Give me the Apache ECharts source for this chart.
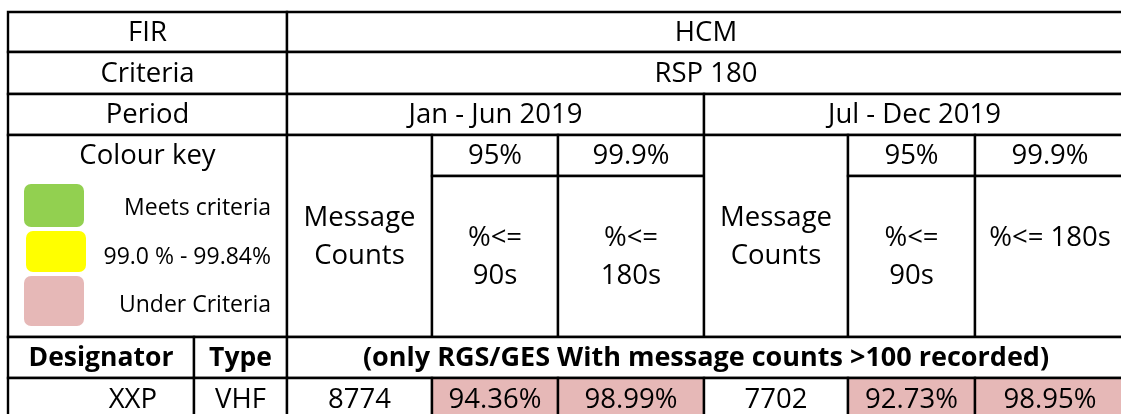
<!DOCTYPE html>
<html>
<head>
<meta charset="utf-8">
<script src="https://cdn.jsdelivr.net/npm/echarts@6.0.0/dist/echarts.min.js"></script>
<style>
  html, body { margin: 0; padding: 0; background: #fff; }
  #chart { width: 1121px; height: 414px; }
</style>
</head>
<body>
<div id="chart"></div>
<script>
// table content
var headerLabels = ['FIR', 'Criteria', 'Period'];
var headerValues = ['HCM', 'RSP 180'];
var periods = ['Jan - Jun 2019', 'Jul - Dec 2019'];
var targets = ['95%', '99.9%'];
var metricLabels = [
    ['Message\nCounts', '%<=\n90s', '%<=\n180s'],
    ['Message\nCounts', '%<=\n90s', '%<= 180s\n']
];
var keyTitle = 'Colour key';
var keyLabels = ['Meets criteria', '99.0 % - 99.84%', 'Under Criteria'];
var keyColors = ['#92D050', '#FFFF00', '#E6B8B7'];
var rowHeaders = ['Designator', 'Type'];
var noteText = '(only RGS/GES With message counts >100 recorded)';
var designators = ['XXP'];
var types = ['VHF'];
var messageCounts = [[8774, 7702]];
var pct90 = [[94.36, 92.73]];
var pct180 = [[98.99, 98.95]];

// grid lines of the sheet (pixels)
var colEdges = [8, 194, 287, 432, 558, 704, 848, 975, 1125];
var rowEdges = [12, 52, 94, 135, 176, 337, 378, 420];

var FONT = '"Open Sans", "Liberation Sans", sans-serif';

function colour90(v) {
    return v >= 95 ? keyColors[0] : keyColors[2];
}
function colour180(v) {
    if (v >= 99.9) return keyColors[0];
    if (v >= 99.0) return keyColors[1];
    return keyColors[2];
}

var cells = [];
function cell(c0, c1, r0, r1, text, opts) {
    opts = opts || {};
    cells.push({
        value: [colEdges[c0], rowEdges[r0], colEdges[c1], rowEdges[r1]],
        text: text,
        fill: opts.fill || '#fff',
        bold: !!opts.bold,
        size: opts.size || 27.5,
        align: opts.align || 'center',
        pad: opts.pad || 0
    });
}

// header rows
cell(0, 2, 0, 1, headerLabels[0]);
cell(2, 8, 0, 1, headerValues[0]);
cell(0, 2, 1, 2, headerLabels[1]);
cell(2, 8, 1, 2, headerValues[1]);
cell(0, 2, 2, 3, headerLabels[2]);
cell(2, 5, 2, 3, periods[0]);
cell(5, 8, 2, 3, periods[1]);

// colour key block
cell(0, 2, 3, 5, '');
cell(0, 2, 3, 4, keyTitle);
cells[cells.length - 1].noBorder = true;

for (var p = 0; p < 2; p++) {
    var c = p * 3 + 2;
    cell(c, c + 1, 3, 5, metricLabels[p][0]);
    cell(c + 1, c + 2, 3, 4, targets[0]);
    cell(c + 2, c + 3, 3, 4, targets[1]);
    cell(c + 1, c + 2, 4, 5, metricLabels[p][1]);
    cell(c + 2, c + 3, 4, 5, metricLabels[p][2]);
}

cell(0, 1, 5, 6, rowHeaders[0], { bold: true, size: 26.5 });
cell(1, 2, 5, 6, rowHeaders[1], { bold: true, size: 26.5 });
cell(2, 8, 5, 6, noteText, { bold: true, size: 27 });

for (var i = 0; i < designators.length; i++) {
    var r = 6 + i;
    cell(0, 1, r, r + 1, designators[i], { align: 'right', pad: 37 });
    cell(1, 2, r, r + 1, types[i]);
    for (var q = 0; q < 2; q++) {
        var cc = q * 3 + 2;
        cell(cc, cc + 1, r, r + 1, String(messageCounts[i][q]));
        cell(cc + 1, cc + 2, r, r + 1, pct90[i][q].toFixed(2) + '%', { fill: colour90(pct90[i][q]) });
        cell(cc + 2, cc + 3, r, r + 1, pct180[i][q].toFixed(2) + '%', { fill: colour180(pct180[i][q]) });
    }
}

// colour key swatches and labels
var keyBoxes = [[24, 184, 84, 227], [26, 231, 86, 272], [24, 276, 84, 326]];
var keyTextY = [208, 257, 305];
var keyItems = keyLabels.map(function (label, k) {
    return { value: keyBoxes[k].concat([271, keyTextY[k]]), text: label, fill: keyColors[k] };
});

var chart = echarts.init(document.getElementById('chart'));

chart.setOption({
    backgroundColor: '#fff',
    animation: false,
    grid: { left: 0, right: 0, top: 0, bottom: 0 },
    xAxis: { type: 'value', min: 0, max: 1121, show: false },
    yAxis: { type: 'value', min: 0, max: 414, inverse: true, show: false },
    series: [{
        type: 'custom',
        data: cells,
        renderItem: function (params, api) {
            var d = cells[params.dataIndex];
            var a = api.coord([api.value(0), api.value(1)]);
            var b = api.coord([api.value(2), api.value(3)]);
            var children = [];
            if (!d.noBorder) {
                children.push({
                    type: 'rect',
                    shape: { x: a[0], y: a[1], width: b[0] - a[0], height: b[1] - a[1] },
                    style: { fill: d.fill, stroke: '#000', lineWidth: 2.4 }
                });
            }
            if (d.text) {
                var tx = d.align === 'right' ? b[0] - d.pad : (a[0] + b[0]) / 2;
                children.push({
                    type: 'text',
                    style: {
                        text: d.text,
                        x: tx,
                        y: (a[1] + b[1]) / 2 + 1,
                        align: d.align,
                        verticalAlign: 'middle',
                        fontSize: d.size,
                        fontFamily: FONT,
                        fontWeight: d.bold ? 'bold' : 'normal',
                        lineHeight: 38,
                        fill: '#000'
                    }
                });
            }
            return { type: 'group', children: children };
        }
    }, {
        type: 'custom',
        data: keyItems,
        renderItem: function (params, api) {
            var d = keyItems[params.dataIndex];
            var a = api.coord([api.value(0), api.value(1)]);
            var b = api.coord([api.value(2), api.value(3)]);
            var t = api.coord([api.value(4), api.value(5)]);
            return {
                type: 'group',
                children: [{
                    type: 'rect',
                    shape: { x: a[0], y: a[1], width: b[0] - a[0], height: b[1] - a[1], r: 7 },
                    style: { fill: d.fill }
                }, {
                    type: 'text',
                    style: {
                        text: d.text,
                        x: t[0],
                        y: t[1],
                        align: 'right',
                        verticalAlign: 'middle',
                        fontSize: 23,
                        fontFamily: FONT,
                        fill: '#000'
                    }
                }]
            };
        }
    }]
});
</script>
</body>
</html>
